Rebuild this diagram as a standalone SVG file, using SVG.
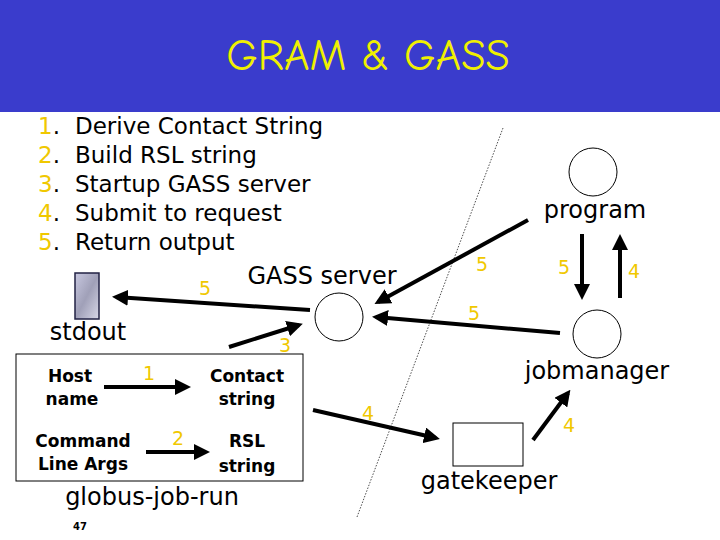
<svg xmlns="http://www.w3.org/2000/svg" width="720" height="540" viewBox="0 0 720 540">
<style>
.t{font-family:"DejaVu Sans",Verdana,sans-serif;fill:#000}
.y{font-family:"DejaVu Sans",Verdana,sans-serif;fill:#f0c800;font-size:19px}
.n{fill:#f0c800}
.b{font-family:"DejaVu Sans",Verdana,sans-serif;font-weight:bold;font-size:17px;text-anchor:middle}
.c{fill:#fff;stroke:#000;stroke-width:1}
.a{stroke:#000;stroke-width:4;fill:none;marker-end:url(#ah)}
</style>
<defs><marker id="ah" markerWidth="4" markerHeight="4" refX="3" refY="2" orient="auto"><path d="M0,0L4,2L0,4Z" fill="#000"/></marker>
<linearGradient id="g" x1="0" y1="0" x2="1" y2="1"><stop offset="0" stop-color="#c8c8e0"/><stop offset="0.5" stop-color="#a0a0b8"/><stop offset="1" stop-color="#d8d8e8"/></linearGradient></defs>
<rect width="720" height="540" fill="#fff"/>
<rect width="720" height="112" fill="#3a3ccc"/>
<text x="368" y="70" font-family="'Comic Neue','DejaVu Sans',sans-serif" font-size="44" fill="#f0f000" text-anchor="middle">GRAM &amp; GASS</text>
<g class="t" font-size="23">
<text x="38" y="134"><tspan class="n">1</tspan>.</text><text x="75" y="134">Derive Contact String</text>
<text x="38" y="163"><tspan class="n">2</tspan>.</text><text x="75" y="163">Build RSL string</text>
<text x="38" y="192"><tspan class="n">3</tspan>.</text><text x="75" y="192">Startup GASS server</text>
<text x="38" y="221"><tspan class="n">4</tspan>.</text><text x="75" y="221">Submit to request</text>
<text x="38" y="250"><tspan class="n">5</tspan>.</text><text x="75" y="250">Return output</text>
</g>
<line x1="503" y1="128" x2="357" y2="517" stroke="#000" stroke-width="0.7" stroke-dasharray="1.5,1.5"/>
<g id="stdout"><rect x="75" y="273" width="24" height="46" fill="url(#g)" stroke="#224" stroke-width="1.5"/><text class="t" x="88" y="340" font-size="24" text-anchor="middle">stdout</text></g>
<g id="globus"><rect x="16" y="354" width="287" height="127" fill="#fff" stroke="#000"/>
<text class="b" x="70" y="382">Host</text><text class="b" x="72" y="405">name</text>
<text class="b" x="247" y="382">Contact</text><text class="b" x="247" y="405">string</text>
<text class="b" x="83" y="447">Command</text><text class="b" x="83" y="470">Line Args</text>
<text class="b" x="247" y="447">RSL</text><text class="b" x="247" y="472">string</text>
<text class="t" x="152" y="505" font-size="24" text-anchor="middle">globus-job-run</text>
<text x="80" y="530" font-family="'DejaVu Sans',sans-serif" font-weight="bold" font-size="10" text-anchor="middle">47</text></g>
<g id="gass"><circle class="c" cx="339" cy="317" r="24"/><text class="t" x="322" y="284" font-size="24" text-anchor="middle">GASS server</text></g>
<g id="program"><circle class="c" cx="593" cy="172" r="24"/><text class="t" x="595" y="218" font-size="24" text-anchor="middle">program</text></g>
<g id="jobmanager"><circle class="c" cx="597" cy="334" r="24"/><text class="t" x="597" y="379" font-size="24" text-anchor="middle">jobmanager</text></g>
<g id="gatekeeper"><rect x="453" y="423" width="70" height="43" fill="#fff" stroke="#000"/><text class="t" x="489" y="489" font-size="24" text-anchor="middle">gatekeeper</text></g>
<g id="connectors">
<line class="a" x1="310" y1="310" x2="116" y2="297"/>
<line class="a" x1="229" y1="347" x2="299" y2="325"/>
<line class="a" x1="104" y1="387" x2="187" y2="387"/>
<line class="a" x1="146" y1="452" x2="206" y2="452"/>
<line class="a" x1="528" y1="220" x2="378" y2="302"/>
<line class="a" x1="560" y1="333" x2="376" y2="317"/>
<line class="a" x1="582" y1="234" x2="582" y2="296"/>
<line class="a" x1="620" y1="298" x2="620" y2="238"/>
<line class="a" x1="313" y1="410" x2="436" y2="438"/>
<line class="a" x1="533" y1="440" x2="568" y2="393"/>
</g>
<g>
<text class="y" x="199" y="295">5</text><text class="y" x="279" y="352">3</text>
<text class="y" x="143" y="380">1</text><text class="y" x="172" y="445">2</text>
<text class="y" x="476" y="271">5</text><text class="y" x="558" y="274">5</text>
<text class="y" x="628" y="278">4</text><text class="y" x="468" y="320">5</text>
<text class="y" x="362" y="420">4</text><text class="y" x="563" y="432">4</text>
</g>
</svg>
